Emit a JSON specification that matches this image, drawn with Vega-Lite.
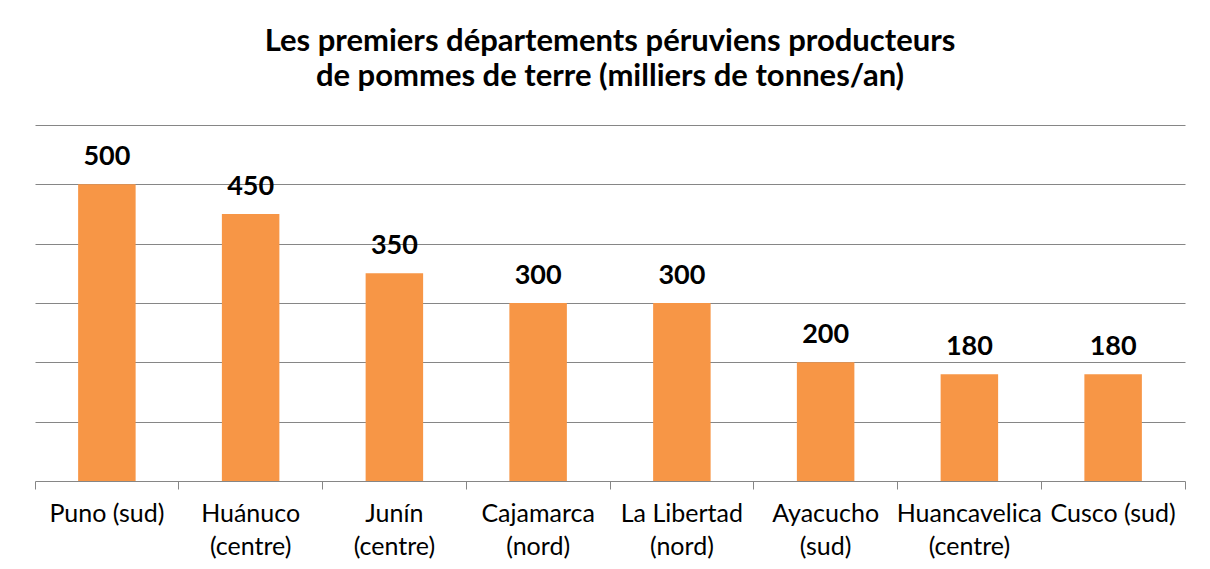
{
  "$schema": "https://vega.github.io/schema/vega-lite/v6.json",
  "width": 1150,
  "height": 356,
  "autosize": "none",
  "padding": {"left": 35, "top": 125, "right": 25, "bottom": 88},
  "background": "white",
  "title": {
    "text": ["Les premiers départements péruviens producteurs", "de pommes de terre (milliers de tonnes/an)"],
    "font": "Lato",
    "fontSize": 31,
    "fontWeight": "bold",
    "color": "black",
    "lineHeight": 35,
    "anchor": "middle",
    "offset": 32
  },
  "data": {
    "values": [
      {"dept": "Puno (sud)", "prod": 500},
      {"dept": "Huánuco|(centre)", "prod": 450},
      {"dept": "Junín|(centre)", "prod": 350},
      {"dept": "Cajamarca|(nord)", "prod": 300},
      {"dept": "La Libertad|(nord)", "prod": 300},
      {"dept": "Ayacucho|(sud)", "prod": 200},
      {"dept": "Huancavelica|(centre)", "prod": 180},
      {"dept": "Cusco (sud)", "prod": 180}
    ]
  },
  "encoding": {
    "x": {
      "field": "dept",
      "type": "nominal",
      "sort": null,
      "scale": {"paddingInner": 0, "paddingOuter": 0},
      "axis": {
        "title": null,
        "labelAngle": 0,
        "labelExpr": "split(datum.label, '|')",
        "labelFont": "Lato",
        "labelFontSize": 25,
        "labelLineHeight": 33,
        "labelColor": "black",
        "labelPadding": 12,
        "labelBaseline": "top",
        "labelLimit": 0,
        "ticks": true,
        "bandPosition": 1,
        "tickExtra": true,
        "tickSize": 8,
        "tickWidth": 1,
        "tickColor": "#868686",
        "tickOpacity": 1,
        "domainColor": "#868686",
        "grid": false
      }
    },
    "y": {
      "field": "prod",
      "type": "quantitative",
      "scale": {"domain": [0, 600], "nice": false},
      "axis": {
        "title": null,
        "values": [100, 200, 300, 400, 500, 600],
        "labels": false,
        "ticks": false,
        "domain": false,
        "grid": true,
        "gridColor": "#868686",
        "gridOpacity": 1
      }
    }
  },
  "layer": [
    {"mark": {"type": "bar", "color": "#F79646", "width": {"band": 0.4}}},
    {
      "mark": {"type": "text", "font": "Lato", "fontSize": 27, "fontWeight": "bold", "color": "black", "baseline": "alphabetic", "dy": -19},
      "encoding": {"text": {"field": "prod", "type": "quantitative"}}
    }
  ],
  "config": {"view": {"stroke": null}}
}
